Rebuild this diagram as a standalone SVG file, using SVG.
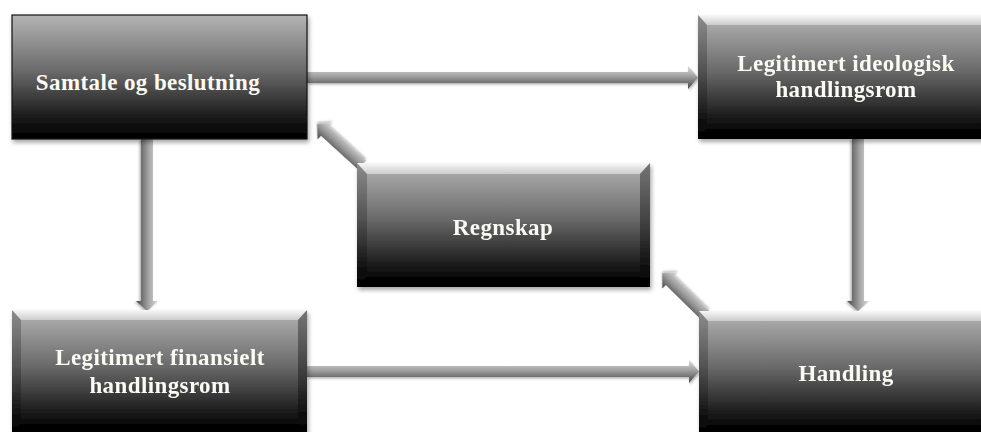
<svg xmlns="http://www.w3.org/2000/svg" width="981" height="432" viewBox="0 0 981 432">
<defs>
  <linearGradient id="boxg" x1="0" y1="0" x2="0" y2="1">
    <stop offset="0" stop-color="#b4b4b4"/>
    <stop offset="0.45" stop-color="#6a6a6a"/>
    <stop offset="0.85" stop-color="#151515"/>
    <stop offset="1" stop-color="#000"/>
  </linearGradient>
  <linearGradient id="topb" x1="0" y1="0" x2="0" y2="1">
    <stop offset="0" stop-color="#ffffff"/>
    <stop offset="1" stop-color="#d0d0d0"/>
  </linearGradient>
  <linearGradient id="arrg" x1="0" y1="0" x2="0" y2="1">
    <stop offset="0" stop-color="#dedede"/>
    <stop offset="0.45" stop-color="#a0a0a0"/>
    <stop offset="1" stop-color="#444"/>
  </linearGradient>
  <linearGradient id="arrd" x1="0" y1="1" x2="0" y2="0">
    <stop offset="0" stop-color="#dedede"/>
    <stop offset="0.45" stop-color="#a0a0a0"/>
    <stop offset="1" stop-color="#444"/>
  </linearGradient>
  <filter id="sh" x="-10%" y="-10%" width="120%" height="130%">
    <feDropShadow dx="1.5" dy="3" stdDeviation="2" flood-color="#000" flood-opacity="0.35"/>
  </filter>
  <filter id="ash" x="-10%" y="-50%" width="120%" height="200%">
    <feDropShadow dx="1" dy="1.5" stdDeviation="1" flood-color="#000" flood-opacity="0.3"/>
  </filter>
</defs>
<style>
  .lbl { font-family: "Liberation Serif", "DejaVu Serif", serif; font-weight: bold; font-size: 23px; letter-spacing: 0.4px; fill: #fbfbf4; text-anchor: middle; }
  .base { fill: url(#boxg); }
  .tb { fill: url(#topb); opacity: 0.9; }
  .lb { fill: #000; opacity: 0.22; }
  .rb { fill: #000; opacity: 0.35; }
  .bb { fill: #000; opacity: 0.55; }
  .arr { fill: url(#arrg); filter: url(#ash); }
  .arrd { fill: url(#arrd); filter: url(#ash); }
</style>
<rect width="981" height="432" fill="#fff"/>

<g id="connectors">
  <!-- Samtale -> Legitimert ideologisk -->
  <polygon class="arr" points="307,72 688,72 688,66 698,77.5 688,89 688,83 307,83"/>
  <!-- Legitimert finansielt -> Handling -->
  <polygon class="arr" points="307,366 689,366 689,360 699,371.5 689,383 689,377 307,377"/>
  <!-- Samtale -> Legitimert finansielt -->
  <polygon class="arr" transform="translate(147,139) rotate(90)" points="0,-6 162,-6 162,-11 172,0 162,11 162,6 0,6"/>
  <!-- Legitimert ideologisk -> Handling -->
  <polygon class="arr" transform="translate(858,139) rotate(90)" points="0,-6 162,-6 162,-11 172,0 162,11 162,6 0,6"/>
  <!-- Regnskap -> Samtale -->
  <polygon class="arrd" transform="translate(362,165) rotate(-137.7)" points="0,-6 50,-6 50,-11 61,0 50,11 50,6 0,6"/>
  <!-- Handling -> Regnskap -->
  <polygon class="arrd" transform="translate(705,315) rotate(-135.7)" points="0,-6 49,-6 49,-11 60,0 49,11 49,6 0,6"/>
</g>

<g id="samtale">
  <rect class="base" x="12" y="15" width="295" height="124" filter="url(#sh)" stroke="#111" stroke-width="1.2"/>
  <text class="lbl" x="148" y="90">Samtale og beslutning</text>
</g>

<g id="ideologisk" filter="url(#sh)">
  <rect class="base" x="698" y="15" width="296" height="124"/>
  <polygon class="tb" points="698,15 994,15 985,25 707,25"/>
  <polygon class="lb" points="698,15 707,25 707,129 698,139"/>
  <polygon class="rb" points="994,15 985,25 985,129 994,139"/>
  <polygon class="bb" points="698,139 707,129 985,129 994,139"/>
  <text class="lbl" x="846" y="71">Legitimert ideologisk</text>
  <text class="lbl" x="846" y="97">handlingsrom</text>
</g>

<g id="regnskap" filter="url(#sh)">
  <rect class="base" x="357" y="163" width="293" height="124"/>
  <polygon class="tb" points="357,163 650,163 640,174 367,174"/>
  <polygon class="lb" points="357,163 367,174 367,277 357,287"/>
  <polygon class="rb" points="650,163 640,174 640,277 650,287"/>
  <polygon class="bb" points="357,287 367,277 640,277 650,287"/>
  <text class="lbl" x="503" y="235">Regnskap</text>
</g>

<g id="finansielt" filter="url(#sh)">
  <rect class="base" x="12" y="310" width="295" height="124"/>
  <polygon class="tb" points="12,310 307,310 298,320 21,320"/>
  <polygon class="lb" points="12,310 21,320 21,424 12,434"/>
  <polygon class="rb" points="307,310 298,320 298,424 307,434"/>
  <polygon class="bb" points="12,434 21,424 298,424 307,434"/>
  <text class="lbl" x="160" y="365">Legitimert finansielt</text>
  <text class="lbl" x="160" y="393">handlingsrom</text>
</g>

<g id="handling" filter="url(#sh)">
  <rect class="base" x="699" y="311" width="296" height="124"/>
  <polygon class="tb" points="699,311 995,311 986,321 708,321"/>
  <polygon class="lb" points="699,311 708,321 708,425 699,435"/>
  <polygon class="rb" points="995,311 986,321 986,425 995,435"/>
  <polygon class="bb" points="699,435 708,425 986,425 995,435"/>
  <text class="lbl" x="846" y="381">Handling</text>
</g>
</svg>
